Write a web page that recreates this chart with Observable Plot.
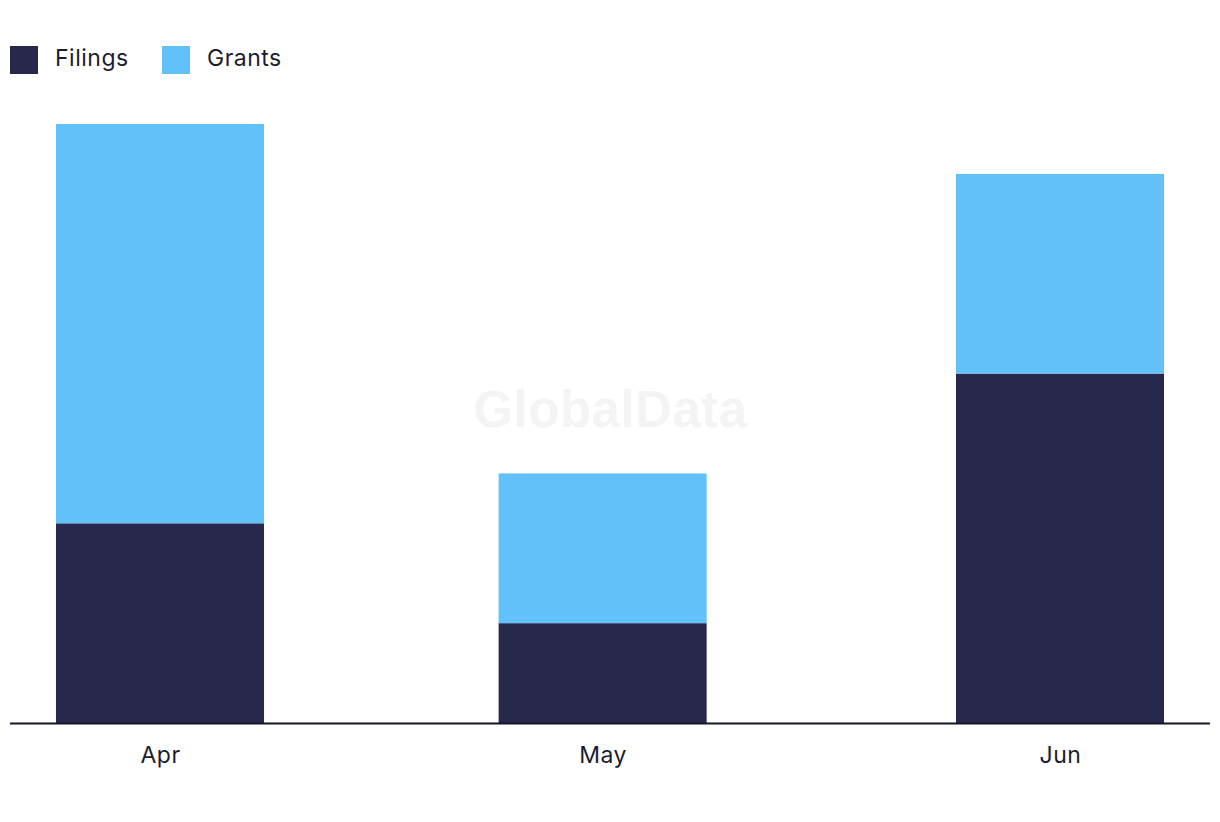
<!DOCTYPE html>
<html>
<head>
<meta charset="utf-8">
<script src="https://cdn.jsdelivr.net/npm/d3@7"></script>
<script src="https://cdn.jsdelivr.net/npm/@observablehq/plot@0.6"></script>
<style>
  html, body { margin: 0; padding: 0; background: #fff; }
  body { width: 1220px; height: 822px; overflow: hidden; font-family: Inter, "Noto Sans", sans-serif; color: #1c1c30; }
  #legend { height: 100px; position: relative; }
  .item { position: absolute; top: 46px; display: flex; align-items: center; font-size: 23px; letter-spacing: 0.5px; line-height: 28px; }
  .item .t { position: relative; top: -2px; }
  .sw { width: 28px; height: 28px; margin-right: 17px; }
  #chart svg { display: block; }
  #chart svg text { letter-spacing: 0.5px; }
</style>
</head>
<body>
<div id="legend"></div>
<div id="chart"></div>
<script>
const months = ["2023-04-01", "2023-05-01", "2023-06-01"];
const monthLabels = ["Apr", "May", "Jun"];
const series = ["Filings", "Grants"];
const filings = [4, 2, 7];
const grants = [8, 3, 4];
const colors = ["#27284b", "#62c1f8"];

const day = 864e5;
const dates = months.map(d => new Date(d + "T00:00:00Z"));
const rows = [];
dates.forEach((d, i) => {
  rows.push({date: d, series: "Filings", y1: 0, y2: filings[i]});
  rows.push({date: d, series: "Grants", y1: filings[i], y2: filings[i] + grants[i]});
});

// legend
const legend = document.getElementById("legend");
const lefts = [10, 162];
series.forEach((s, i) => {
  const el = document.createElement("div");
  el.className = "item";
  el.style.left = lefts[i] + "px";
  el.innerHTML = `<span class="sw" style="background:${colors[i]}"></span><span class="t">${s}</span>`;
  legend.appendChild(el);
});

const pad = 10.167 * day;
const half = 7.05 * day;
const chart = Plot.plot({
  width: 1220,
  height: 722,
  marginLeft: 10,
  marginRight: 10,
  marginTop: 24,
  marginBottom: 99,
  style: {fontFamily: "Inter, 'Noto Sans', sans-serif", fontSize: "23px", color: "#1c1c30", background: "#fff"},
  x: {type: "utc", domain: [new Date(+dates[0] - pad), new Date(+dates[2] + pad)], ticks: dates, tickFormat: (d) => monthLabels[dates.findIndex(t => +t === +d)], tickSize: 0, tickPadding: 23, label: null},
  y: {domain: [0, 12], axis: null},
  color: {domain: series, range: colors},
  marks: [
    Plot.text(["GlobalData"], {frameAnchor: "middle", dy: -13, fontSize: 51, fontWeight: "bold", fill: "#f4f4f4", fontFamily: "Liberation Sans, Arial, sans-serif"}),
    Plot.rectY(rows, {x1: d => new Date(+d.date - half), x2: d => new Date(+d.date + half), y1: "y1", y2: "y2", fill: "series"}),
    Plot.ruleY([0], {stroke: "#14142a", strokeWidth: 2})
  ]
});
document.getElementById("chart").appendChild(chart);
</script>
</body>
</html>
